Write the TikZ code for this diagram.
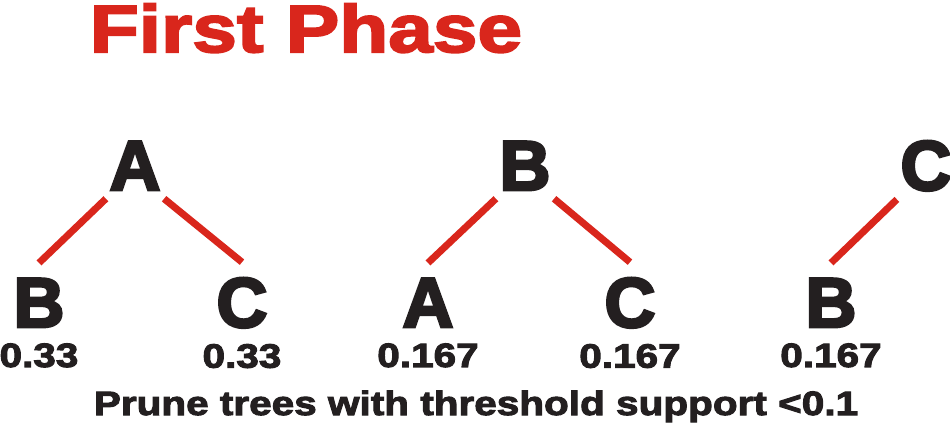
\documentclass[tikz,border=0pt]{standalone}
\usepackage{fontspec}
\usepackage{xcolor}
\usepackage{tikz}
\usetikzlibrary{positioning}
\newfontfamily\letterfont[FakeBold=4]{Liberation Sans}
\newfontfamily\widefont[FakeStretch=1.2,FakeBold=3]{Liberation Sans}
\definecolor{phasered}{RGB}{217,38,28}
\definecolor{inkblack}{RGB}{35,31,32}

\begin{document}
\begin{tikzpicture}[x=0.01cm, y=-0.01cm,
    root/.style={font=\letterfont\bfseries\fontsize{20}{20}\selectfont, text=inkblack, inner xsep=0.03cm, inner ysep=0.08cm, anchor=base},
    leaf/.style={font=\letterfont\bfseries\fontsize{20}{20}\selectfont, text=inkblack, inner xsep=0pt, inner ysep=0.15cm, anchor=base},
    supp/.style={font=\widefont\bfseries\fontsize{9.6}{9.6}\selectfont, text=inkblack, inner sep=0pt},
    edge/.style={draw=phasered, line width=0.07cm}]
    \useasboundingbox (0,0) rectangle (950,423);

    % Title
    \node[font=\widefont\bfseries\fontsize{19}{19}\selectfont, text=phasered, inner sep=0pt, anchor=base] (title) at (306,52) {First Phase};

    % Tree rooted at A
    \node[root] (a) at (135,190) {A};
    \node[leaf] (ab) at (39,327) {B};
    \node[leaf] (ac) at (242,327) {C};
    \draw[edge] (a.south west) -- (ab.north);
    \draw[edge] (a.south east) -- (ac.north);
    \node[supp, below=0pt of ab] (sab) {0.33};
    \node[supp, below=0pt of ac] (sac) {0.33};

    % Tree rooted at B
    \node[root] (b) at (525,190) {B};
    \node[leaf] (ba) at (428,327) {A};
    \node[leaf] (bc) at (630,327) {C};
    \draw[edge] (b.south west) -- (ba.north);
    \draw[edge] (b.south east) -- (bc.north);
    \node[supp, below=0pt of ba] (sba) {0.167};
    \node[supp, below=0pt of bc] (sbc) {0.167};

    % Tree rooted at C
    \node[root] (c) at (926,190) {C};
    \node[leaf] (cb) at (831,327) {B};
    \draw[edge] (c.south west) -- (cb.north);
    \node[supp, below=0pt of cb] (scb) {0.167};

    % Pruning note
    \node[supp, anchor=base] (note) at (476,415) {Prune trees with threshold support <0.1};
\end{tikzpicture}
\end{document}
